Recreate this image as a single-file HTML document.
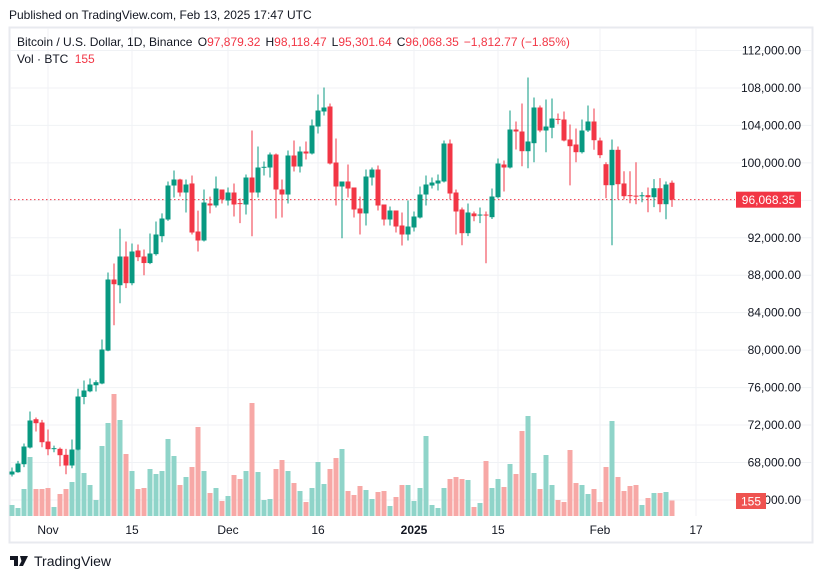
<!DOCTYPE html>
<html><head><meta charset="utf-8"><style>
html,body{margin:0;padding:0;background:#fff;width:823px;height:579px;overflow:hidden}
svg{display:block;font-family:"Liberation Sans",sans-serif}
</style></head><body>
<svg id="chart" width="823" height="579" viewBox="0 0 823 579">
<text x="9" y="19" font-size="12" fill="#131722">Published on TradingView.com, Feb 13, 2025 17:47 UTC</text>
<rect x="9.5" y="27.5" width="803" height="515" fill="none" stroke="#e8eaef" stroke-width="2"/>
<g id="grid"></g>
<g id="vols"></g>
<line x1="10" x2="735" id="lastline" stroke="#f23645" stroke-width="1" stroke-dasharray="1.5,2.5"/>
<g id="candles"></g>
<g id="yaxis"></g>
<g id="xaxis"></g>
<rect x="736" y="192" width="65" height="16" fill="#f23645" id="lastbox"/>
<text x="768.5" y="204.5" font-size="12" fill="#fff" text-anchor="middle" id="lasttext">96,068.35</text>
<rect x="736" y="493" width="30" height="16" fill="#ef5350"/>
<text x="751" y="505.5" font-size="12" fill="#fff" text-anchor="middle">155</text>
<text x="17" y="46" font-size="12" fill="#131722">Bitcoin / U.S. Dollar, 1D, Binance <tspan dx="2">O</tspan><tspan fill="#f23645">97,879.32</tspan><tspan dx="5">H</tspan><tspan fill="#f23645">98,118.47</tspan><tspan dx="5">L</tspan><tspan fill="#f23645">95,301.64</tspan><tspan dx="5">C</tspan><tspan fill="#f23645">96,068.35</tspan><tspan dx="5" fill="#f23645">−1,812.77 (−1.85%)</tspan></text>
<text x="17" y="63" font-size="12" fill="#131722">Vol · BTC <tspan dx="3" fill="#f23645">155</tspan></text>
<g>
<path d="M10 556h8v10h-4v-6h-4z M20 556h8l-5 10h-4l2.5-5z M23 556h2v2h-2z" fill="#131722"/>
<text x="34" y="566" font-size="14" fill="#131722">TradingView</text>
</g>
</svg>
<script>
const opens=[66717,66960,67816,69600,72623,72270,70240,69480,69460,68820,67680,69380,75000,75600,76250,76436,79950,87543,86930,90000,87150,90640,90000,89300,90250,92170,93950,97580,98223,96834,97800,92670,91708,95660,95450,97155,95980,96834,95700,95550,98436,96834,99504,99504,100893,97155,96620,100786,99611,101213,101000,103883,105485,106020,100038,97475,98010,97370,95127,94600,98436,99290,95553,93950,94912,93310,92350,93100,94165,96620,97580,97796,98010,102068,96834,95020,92490,94600,94430,94480,94200,96330,99825,99504,103563,103350,101245,102100,105912,103456,103750,104700,104631,102495,101960,101140,103456,104417,102388,99856,97614,101394,97800,96550,96500,96460,96550,96330,97290,95585,97879];
const highs=[67464,68180,70028,73445,72800,72550,71522,69800,69600,69460,70450,75870,76756,76970,76780,81135,88290,89250,92960,91600,91390,91280,90750,92456,93737,94600,98010,99184,98300,98223,98650,94900,97155,96400,98543,97155,97370,97800,96200,98757,103456,101747,100145,101107,101000,98223,101320,102388,101747,102282,104631,107300,108048,106340,102602,98010,99825,97370,96407,99290,99504,99718,95553,95340,94912,94700,95980,94800,97475,98650,98436,98757,102388,102495,97155,95233,95660,94800,95233,94800,97262,100466,100252,105592,104417,106340,109116,106980,106126,106767,106873,105270,105485,104100,103670,104631,106126,105806,102700,100070,102495,101747,99100,99100,100070,96870,97370,98260,98370,98010,98118];
const lows=[66503,66900,67500,69500,71309,69633,68778,69100,67600,66750,67390,69300,74224,75500,75580,76360,79880,82663,85010,86620,86930,89500,88000,89180,90100,91526,93800,96300,96407,94700,92350,90533,91600,94600,95230,95660,95450,94270,93560,94490,92167,96300,98650,98436,94058,94165,95660,99077,98970,100359,100893,103136,105058,99825,95446,91954,96300,94165,92350,93310,97582,94912,93310,93310,92562,91174,91708,92670,94058,95446,97262,97048,97900,96087,92350,91206,92170,93770,93560,89284,94000,96200,96941,99400,101427,99643,99430,100070,103270,101140,102633,104130,102300,97600,100070,101000,103300,101400,100500,96226,91206,96120,96120,95690,95580,95800,94730,95270,94730,93980,95302];
const closes=[67037,67892,69707,72484,72196,70167,69420,69530,68780,67680,69387,75047,75690,76329,76574,80067,87543,87040,90000,87150,90533,89925,89300,90320,92350,94058,97582,98223,96834,97689,92562,91708,95766,95450,97262,96087,96834,95553,95600,98436,96834,99504,99580,100893,97155,96620,100786,99611,101213,101000,103990,105592,105913,99932,97475,98010,97262,95020,94600,98543,99290,95446,93950,94912,93203,92350,93203,94272,96620,97689,97900,98116,102068,96727,94807,92490,94700,94300,94480,94400,96407,99932,99504,103563,103350,101245,102282,105912,103456,103883,104738,104630,102388,101780,101140,103456,104417,102420,100822,97614,101394,97722,96440,96480,96460,96540,96330,97290,95585,97690,96068];
const volumes=[110,80,270,590,270,270,280,90,220,270,340,670,430,310,160,700,930,1220,960,620,450,270,280,470,420,450,770,600,310,390,490,890,450,230,280,150,200,410,370,450,1130,440,160,170,470,560,450,330,250,140,280,540,320,470,580,670,250,210,300,260,170,240,250,100,190,310,310,150,280,800,110,80,280,370,390,370,360,90,130,550,280,370,290,520,420,850,1000,430,270,610,310,160,140,660,330,310,220,270,140,490,950,390,250,300,310,110,180,230,230,240,155];
const priceTicks=[112000,108000,104000,100000,96000,92000,88000,84000,80000,76000,72000,68000,64000];
const timeTickDays=[6,20,36,51,67,81,98,114];
const timeTickLabels=["Nov","15","Dec","16","2025","15","Feb","17"];
const lastPrice=96068.35;

const NS="http://www.w3.org/2000/svg";
function yP(p){return 50.5+(112000-p)*412/44000;}
function xD(i){return 12+6*i;}
function yV(v){return 516-v/10;}
function mk(tag,attrs,parent){const e=document.createElementNS(NS,tag);for(const k in attrs)e.setAttribute(k,attrs[k]);parent.appendChild(e);return e;}
const grid=document.getElementById('grid'),vols=document.getElementById('vols'),cg=document.getElementById('candles'),ya=document.getElementById('yaxis'),xa=document.getElementById('xaxis');
priceTicks.forEach(p=>{
  const l=mk('line',{x1:10,x2:812,y1:yP(p),y2:yP(p),stroke:'#f0f2f5','stroke-width':1},grid);
  
  
  const t=mk('text',{x:801,y:yP(p)+4,'font-size':12,fill:'#131722','text-anchor':'end'},ya);
  t.textContent=p.toLocaleString('en-US',{minimumFractionDigits:2});
  
  
});
timeTickDays.forEach((d,k)=>{
  const l=mk('line',{x1:xD(d),x2:xD(d),y1:28,y2:516,stroke:'#f0f2f5','stroke-width':1},grid);
  
  
  const t=mk('text',{x:xD(d),y:534,'font-size':12,fill:'#131722','text-anchor':'middle','font-weight':timeTickLabels[k]==='2025'?'bold':'normal'},xa);
  t.textContent=timeTickLabels[k];
  
  
});
volumes.forEach((v,i)=>{
  const up=closes[i]>=opens[i];
  const r=mk('rect',{x:xD(i)-2.5,y:yV(v),width:5,height:516-yV(v),fill:up?'#8fd4c9':'#f7a8a6'},vols);
  
  
});
opens.forEach((o,i)=>{
  const c=closes[i],up=c>=o,col=up?'#089981':'#f23645',x=xD(i);
  const g=mk('g',{},cg);
  
  
  mk('line',{x1:x,x2:x,y1:yP(highs[i]),y2:yP(lows[i]),stroke:col,'stroke-width':1},g);
  const top=Math.min(yP(o),yP(c)),h=Math.max(1,Math.abs(yP(o)-yP(c)));
  mk('rect',{x:x-2.5,y:top,width:5,height:h,fill:col},g);
});
const ll=document.getElementById('lastline');
ll.setAttribute('y1',yP(lastPrice));ll.setAttribute('y2',yP(lastPrice));
document.getElementById('lastbox').setAttribute('y',yP(lastPrice)-8);
document.getElementById('lasttext').setAttribute('y',yP(lastPrice)+4.5);
</script>
</body></html>
